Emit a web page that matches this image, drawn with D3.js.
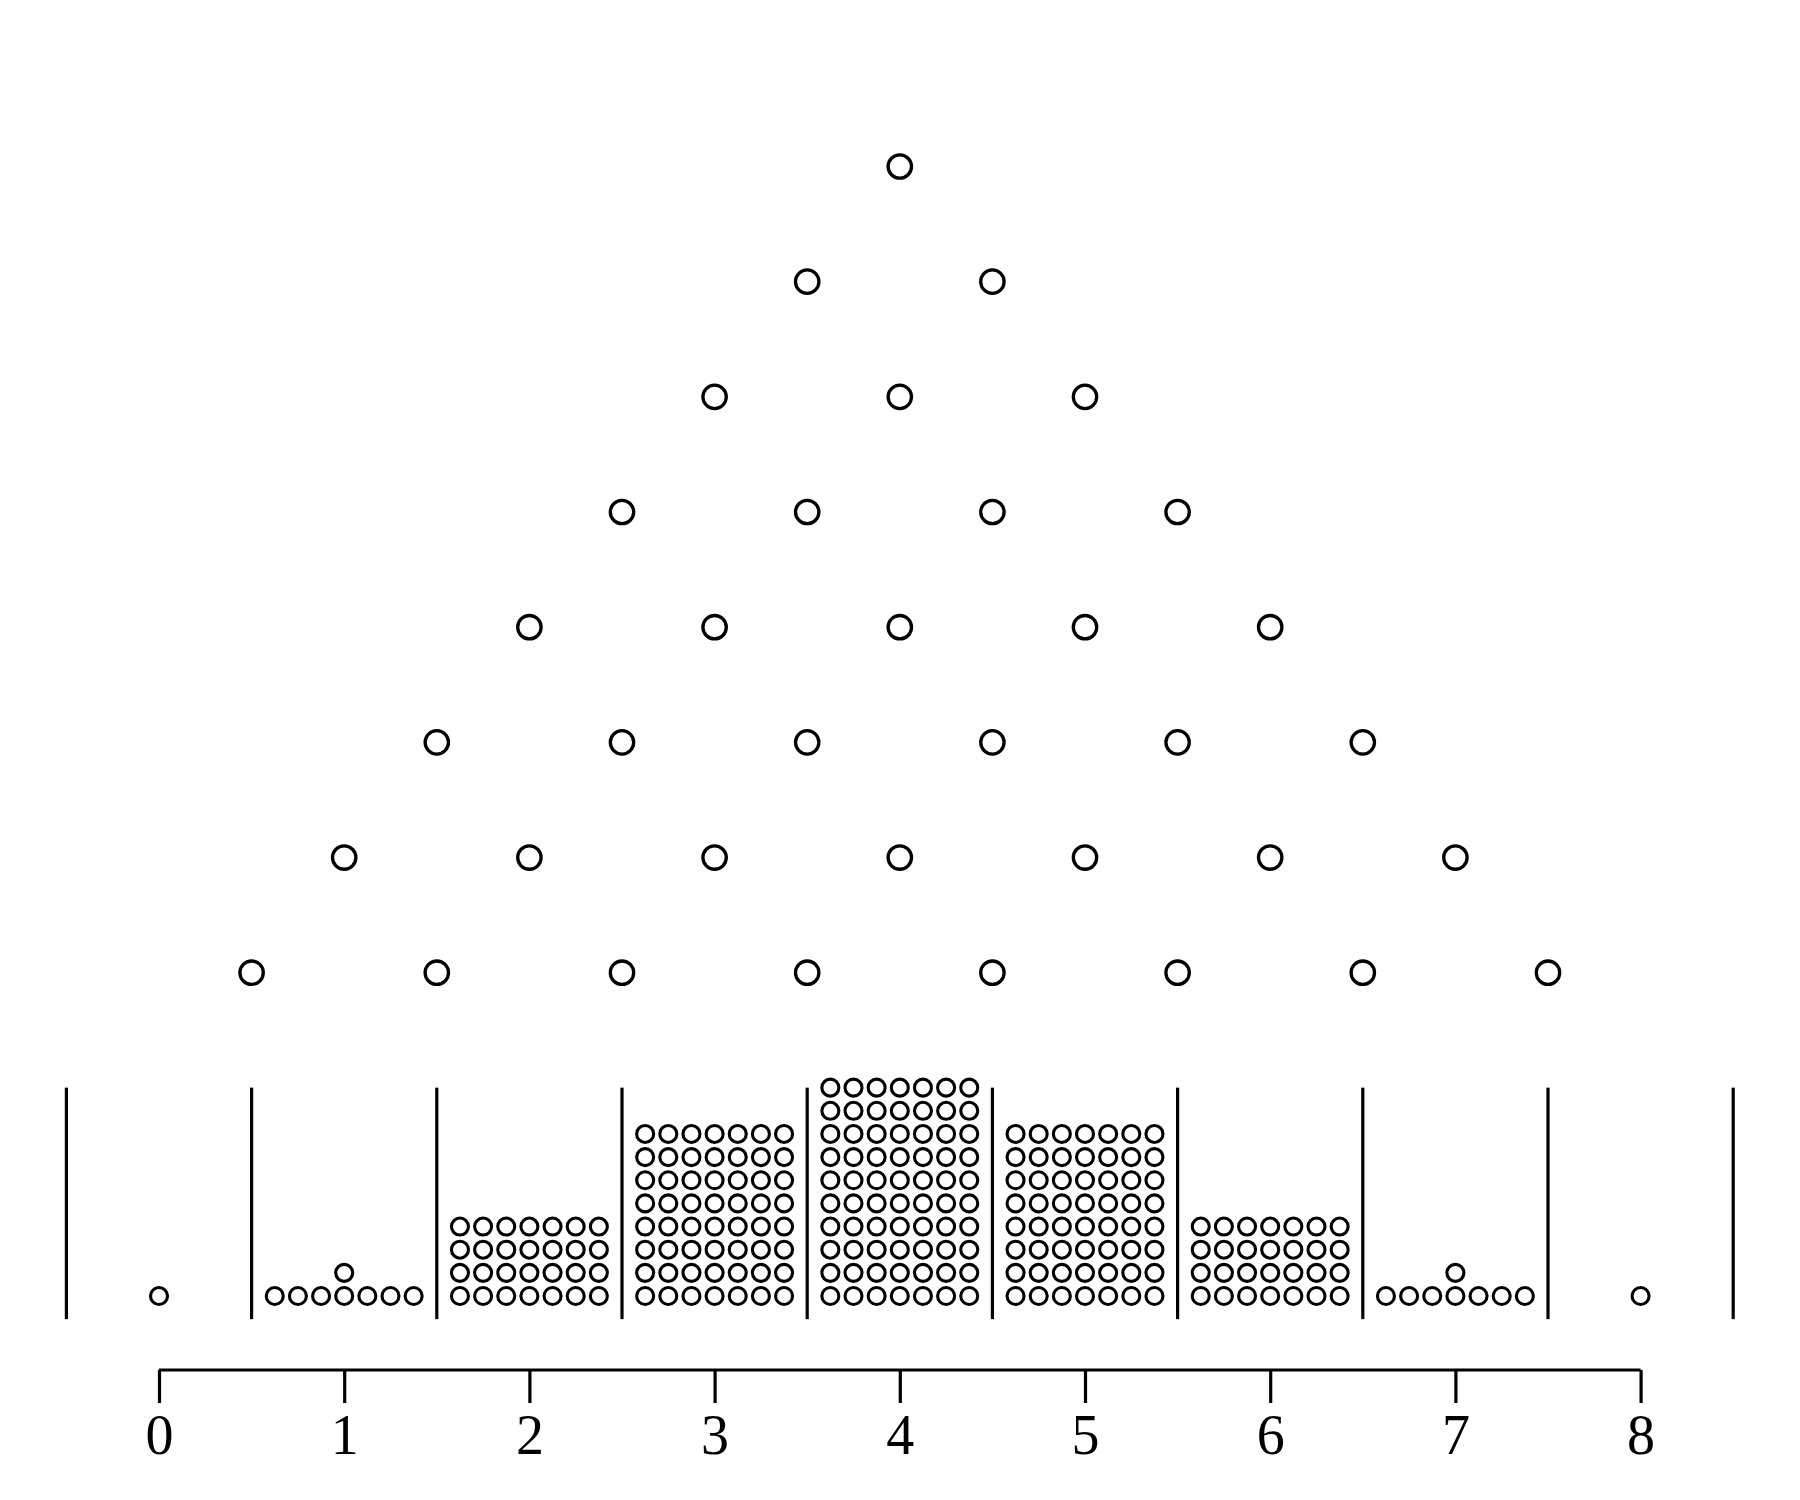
<!DOCTYPE html>
<html>
<head>
<meta charset="utf-8">
<script src="https://cdn.jsdelivr.net/npm/d3@7"></script>
<style>
  html, body { margin: 0; padding: 0; background: #fff; }
  svg { display: block; }
</style>
</head>
<body>
<svg id="chart" width="1800" height="1500"></svg>
<script>
// ---- data ----
const binValues = [0, 1, 2, 3, 4, 5, 6, 7, 8];          // bins (x positions)
const binCounts = [1, 8, 28, 56, 70, 56, 28, 8, 1];      // balls per bin
const pegRows = [1, 2, 3, 4, 5, 6, 7, 8];               // peg row index (top = 1), row r has r pegs
const dividerPositions = [-0.5, 0.5, 1.5, 2.5, 3.5, 4.5, 5.5, 6.5, 7.5, 8.5];
const tickValues = [0, 1, 2, 3, 4, 5, 6, 7, 8];
const ballsPerRow = 7;
const ballStep = 0.125;      // ball spacing in x units
const dividerRange = [-0.125, 1.125];

// ---- scales ----
const x = d3.scaleLinear().domain([0, 8]).range([159, 1640.6]);
const unitPx = x(1) - x(0);
const y = d3.scaleLinear().domain([0, 1]).range([1296, 1296 - unitPx]);   // ball stack height
const yPeg = d3.scaleLinear().domain([1, 8]).range([166.5, 972.7]);

const svg = d3.select("#chart");

// pegs
const pegs = [];
pegRows.forEach(r => {
  for (let j = 0; j < r; j++) {
    pegs.push({ row: r, x: 4 - (r - 1) / 2 + j });
  }
});
svg.append("g").selectAll("circle").data(pegs).join("circle")
  .attr("cx", d => x(d.x))
  .attr("cy", d => yPeg(d.row))
  .attr("r", 11.7)
  .attr("fill", "none")
  .attr("stroke", "#000")
  .attr("stroke-width", 3.3);

// dividers
svg.append("g").selectAll("line").data(dividerPositions).join("line")
  .attr("x1", d => x(d)).attr("x2", d => x(d))
  .attr("y1", y(dividerRange[0])).attr("y2", y(dividerRange[1]))
  .attr("stroke", "#000")
  .attr("stroke-width", 3.2);

// balls
const balls = [];
binValues.forEach((b, i) => {
  const n = binCounts[i];
  let placed = 0, row = 0;
  while (placed < n) {
    const k = Math.min(ballsPerRow, n - placed);
    for (let j = 0; j < k; j++) {
      balls.push({ x: b + (j - (k - 1) / 2) * ballStep, y: row * ballStep });
    }
    placed += k;
    row++;
  }
});
svg.append("g").selectAll("circle").data(balls).join("circle")
  .attr("cx", d => x(d.x))
  .attr("cy", d => y(d.y))
  .attr("r", 8.5)
  .attr("fill", "none")
  .attr("stroke", "#000")
  .attr("stroke-width", 3.1);

// axis
const axis = d3.axisBottom(x).tickValues(tickValues).tickFormat(d3.format("d"))
  .tickSize(33).tickSizeOuter(0).tickPadding(6);
const ag = svg.append("g").attr("transform", "translate(0,1370)").call(axis);
ag.attr("font-family", "Liberation Serif");
ag.select(".domain").attr("stroke", "#000").attr("stroke-width", 3.2)
  .attr("d", `M${x(0)},0H${x(8)}`);
ag.selectAll(".tick line").attr("stroke", "#000").attr("stroke-width", 3.2);
ag.selectAll(".tick text")
  .style("font-family", "'Liberation Serif', serif")
  .attr("font-size", 56)
  .attr("fill", "#000")
  .attr("dy", null)
  .attr("y", 84);
</script>
</body>
</html>
